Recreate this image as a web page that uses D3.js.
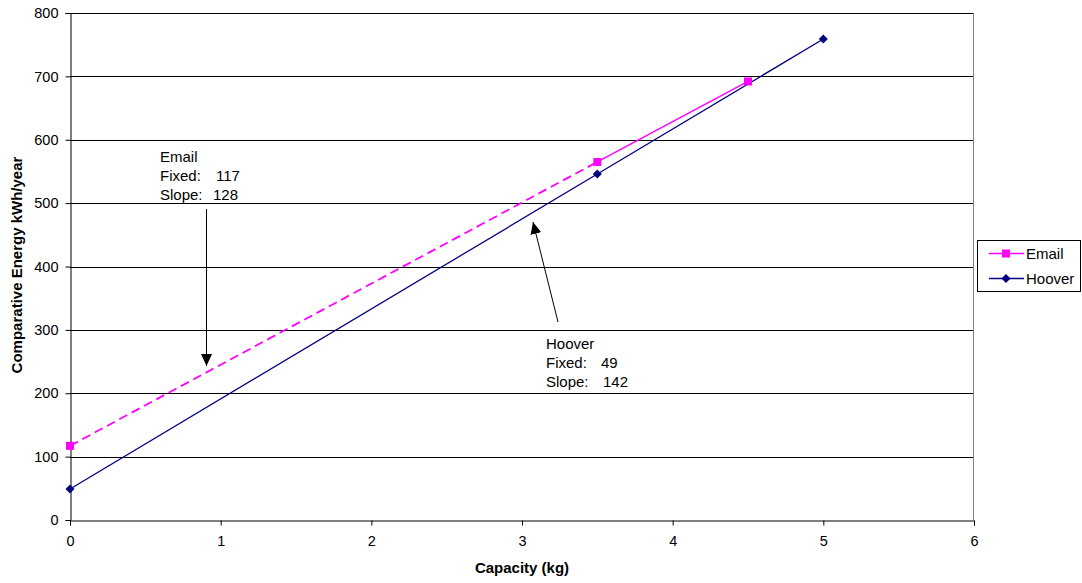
<!DOCTYPE html>
<html><head><meta charset="utf-8">
<script src="https://cdn.jsdelivr.net/npm/d3@7"></script>
<style>body{margin:0;background:#fff;} svg{display:block;font-family:"Liberation Sans",Arial,sans-serif;}</style>
</head><body>
<svg id="c" width="1082" height="583"></svg>
<script>
const emailX = [0, 3.5, 4.5];
const emailY = [117, 565, 692];
const hooverX = [0, 3.5, 5];
const hooverY = [49, 546, 759];
const xTicks = [0, 1, 2, 3, 4, 5, 6];
const yTicks = [0, 100, 200, 300, 400, 500, 600, 700, 800];
const seriesNames = ["Email", "Hoover"];
const emailNoteLabels = ["Email", "Fixed:", "Slope:"];
const emailNoteValues = ["", "117", "128"];
const hooverNoteLabels = ["Hoover", "Fixed:", "Slope:"];
const hooverNoteValues = ["", "49", "142"];

const svg = d3.select("#c");
const x = d3.scaleLinear().domain([0, 6]).range([70, 974]);
const y = d3.scaleLinear().domain([0, 800]).range([520, 13]);
const FONT = "Liberation Sans, Arial, sans-serif";

// gridlines
svg.append("g").selectAll("line").data(yTicks.slice(1)).join("line")
  .attr("x1", x(0)).attr("x2", x(6))
  .attr("y1", d => Math.round(y(d)) + 0.5).attr("y2", d => Math.round(y(d)) + 0.5)
  .attr("stroke", "#000").attr("stroke-width", 1);
// right border
svg.append("line").attr("x1", 973.5).attr("x2", 973.5).attr("y1", y(800)).attr("y2", y(0))
  .attr("stroke", "#808080");

// axes
const xa = svg.append("g").attr("transform", "translate(0,520.5)")
  .call(d3.axisBottom(x).tickValues(xTicks).tickSize(5).tickPadding(10).tickFormat(d3.format("d")));
const ya = svg.append("g").attr("transform", "translate(70.5,0)")
  .call(d3.axisLeft(y).tickValues(yTicks).tickSize(5).tickPadding(7).tickFormat(d3.format("d")));
[xa, ya].forEach(a => {
  a.select(".domain").attr("stroke", "#000");
  a.selectAll(".tick line").attr("stroke", "#000");
  a.selectAll("text").attr("font-size", 14.5).attr("fill", "#000").attr("font-family", FONT);
});

// axis titles
svg.append("text").attr("x", x(3)).attr("y", 573).attr("text-anchor", "middle")
  .attr("font-size", 15).attr("font-weight", "bold").text("Capacity (kg)");
svg.append("text").attr("transform", "translate(22,265) rotate(-90)")
  .attr("text-anchor", "middle").attr("font-size", 15).attr("font-weight", "bold")
  .text("Comparative Energy kWh/year");

const line = d3.line().x(d => x(d[0])).y(d => y(d[1]));
const email = emailX.map((d, i) => [d, emailY[i]]);
const hoover = hooverX.map((d, i) => [d, hooverY[i]]);

// Hoover line
svg.append("path").attr("d", line(hoover)).attr("fill", "none").attr("stroke", "#000080").attr("stroke-width", 1.3);
// Email dashed segment then solid
svg.append("path").attr("d", line(email.slice(0, 2))).attr("fill", "none").attr("stroke", "#ff00ff")
  .attr("stroke-width", 1.8).attr("stroke-dasharray", "9,5");
svg.append("path").attr("d", line(email.slice(1))).attr("fill", "none").attr("stroke", "#ff00ff").attr("stroke-width", 1.5);

// markers
const sq = "M-4,-4H4V4H-4Z";
const dia = "M0,-4.5L4.5,0L0,4.5L-4.5,0Z";
svg.append("g").selectAll("path").data(hoover).join("path")
  .attr("d", dia).attr("transform", d => `translate(${x(d[0])},${y(d[1])})`).attr("fill", "#000080");
svg.append("g").selectAll("path").data(email).join("path")
  .attr("d", sq).attr("transform", d => `translate(${x(d[0])},${y(d[1])})`).attr("fill", "#ff00ff");

// annotations
const defs = svg.append("defs");
defs.append("marker").attr("id", "ah").attr("viewBox", "0 0 10 10").attr("refX", 10).attr("refY", 5)
  .attr("markerWidth", 12).attr("markerHeight", 11).attr("markerUnits", "userSpaceOnUse").attr("orient", "auto")
  .attr("preserveAspectRatio", "none")
  .append("path").attr("d", "M0,0L10,5L0,10Z").attr("fill", "#000");

function note(labels, values, x0, y0, valueX) {
  labels.forEach((s, i) => {
    svg.append("text").attr("x", x0).attr("y", y0 + i * 19).attr("font-size", 15).text(s);
    if (values[i]) svg.append("text").attr("x", valueX[i]).attr("y", y0 + i * 19).attr("font-size", 15).text(values[i]);
  });
}
note(emailNoteLabels, emailNoteValues, 160, 162, [0, 216, 213]);
note(hooverNoteLabels, hooverNoteValues, 546, 349, [0, 601, 603]);
svg.append("line").attr("x1", 206.5).attr("y1", 209).attr("x2", 206.5).attr("y2", 366)
  .attr("stroke", "#000").attr("stroke-width", 1).attr("marker-end", "url(#ah)");
svg.append("line").attr("x1", 558).attr("y1", 322).attr("x2", 533).attr("y2", 222)
  .attr("stroke", "#000").attr("stroke-width", 1).attr("marker-end", "url(#ah)");

// legend
const lg = svg.append("g");
lg.append("rect").attr("x", 977.5).attr("y", 240.5).attr("width", 103).attr("height", 51)
  .attr("fill", "#fff").attr("stroke", "#000");
const cols = ["#ff00ff", "#000080"];
seriesNames.forEach((n, i) => {
  const yy = 253.5 + i * 25;
  lg.append("line").attr("x1", 989).attr("x2", 1024).attr("y1", yy).attr("y2", yy).attr("stroke", cols[i]).attr("stroke-width", 1.5);
  lg.append("path").attr("d", i === 0 ? sq : dia).attr("transform", `translate(1006,${yy})`).attr("fill", cols[i]);
  lg.append("text").attr("x", 1026).attr("y", yy + 5.5).attr("font-size", 15).text(n);
});
</script>
</body></html>
